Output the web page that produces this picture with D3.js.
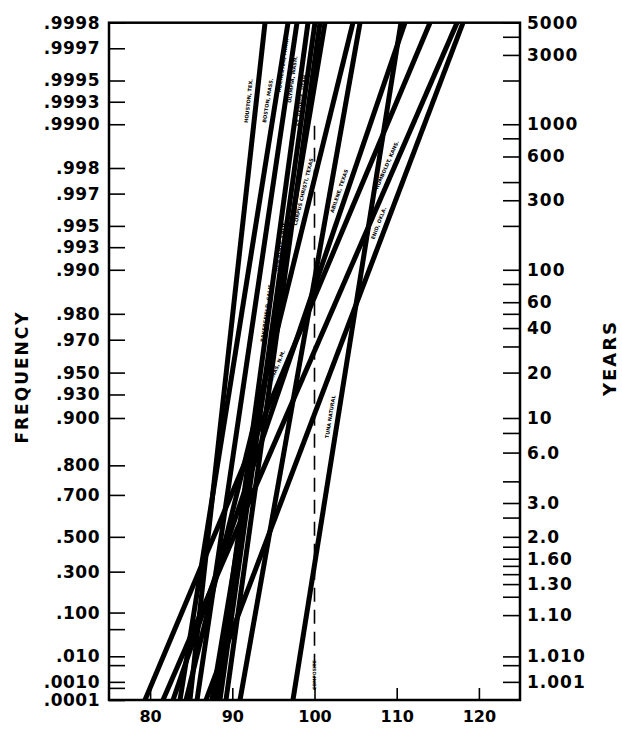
<!DOCTYPE html>
<html>
<head>
<meta charset="utf-8">
<script src="https://cdn.jsdelivr.net/npm/d3@7/dist/d3.min.js"></script>
<style>
body { margin: 0; background: #fff; }
text { font-family: "DejaVu Sans", sans-serif; font-weight: bold; }
</style>
</head>
<body>
<script>
var width = 622;
var height = 732;

// left axis: frequency
var freqTicks = [0.9998, 0.9997, 0.9995, 0.9993, 0.9990, 0.998, 0.997, 0.995, 0.993, 0.990,
    0.980, 0.970, 0.950, 0.930, 0.900, 0.800, 0.700, 0.500, 0.300, 0.100, 0.010, 0.0010, 0.0001];
var freqLabels = [".9998", ".9997", ".9995", ".9993", ".9990", ".998", ".997", ".995", ".993", ".990",
    ".980", ".970", ".950", ".930", ".900", ".800", ".700", ".500", ".300", ".100", ".010", ".0010", ".0001"];
var freqMinor = [0.05, 0.005, 0.0005];

// right axis: return period in years
var yearTicks = [5000, 3000, 1000, 600, 300, 100, 60, 40, 20, 10, 6, 3, 2, 1.6, 1.3, 1.1, 1.01, 1.001];
var yearLabels = ["5000", "3000", "1000", "600", "300", "100", "60", "40", "20", "10", "6.0", "3.0",
    "2.0", "1.60", "1.30", "1.10", "1.010", "1.001"];
var yearMinor = [4000, 2000, 800, 400, 200, 80, 50, 30, 8, 4, 2.5, 1.8, 1.5, 1.4, 1.2, 1.005];

// bottom axis
var xTicks = [80, 90, 100, 110, 120];

// station lines: value at frequency .0001 and at .9998
var stations = ["HOUSTON, TEX.", "BOSTON, MASS.", "ROCHESTER, MINN.", "OLYMPIA, WASH.",
    "", "ST. GEORGE, UTAH", "RED BLUFF, CALIF.", "CORPUS CHRISTI, TEXAS", "BAKERSFIELD, CALIF.",
    "ABILENE, TEXAS", "COLINAS, N.M.", "HUMBOLDT, KANS.", "ENID, OKLA.", "TUNA NATURAL"];
var lowValues  = [84.85, 83.64, 85.71, 88.02, 90.94, 89.23, 87.53, 84.37, 88.50, 82.79, 79.38, 81.57, 86.80, 97.38];
var highValues = [93.98, 96.78, 97.87, 99.21, 105.54, 100.67, 101.28, 104.68, 100.06, 111.01, 114.05, 117.34, 118.07, 110.52];
var labelFreq  = [0.9993, 0.9993, 0.9996, 0.9995, 0, 0.9993, 0.993, 0.997, 0.98, 0.997, 0.95, 0.998, 0.995, 0.90];

// dashed line
var dashFreq = [0.0004, 0.999];
var dashValue = 100;

var gumbel = function (f) { return -Math.log(-Math.log(f)); };

var x = d3.scaleLinear().domain([75, 125]).range([109, 520]);
var y = d3.scaleLinear().domain([gumbel(0.0001), gumbel(0.9998)]).range([700, 22.7]);
var yF = function (f) { return y(gumbel(f)); };

var svg = d3.select("body").append("svg")
    .attr("width", width)
    .attr("height", height);

svg.append("clipPath").attr("id", "plot")
    .append("rect")
    .attr("x", x(75)).attr("y", y.range()[1])
    .attr("width", x(125) - x(75)).attr("height", y.range()[0] - y.range()[1]);

var plot = svg.append("g").attr("clip-path", "url(#plot)");

// station lines
plot.selectAll("line.st")
    .data(lowValues)
    .enter()
    .append("line")
    .attr("class", "st")
    .attr("x1", function (d) { return x(d); })
    .attr("y1", yF(0.0001))
    .attr("x2", function (d, i) { return x(highValues[i]); })
    .attr("y2", yF(0.9998))
    .style("stroke", "#000")
    .style("stroke-width", 5);

// dashed line
plot.append("line")
    .attr("x1", x(dashValue)).attr("x2", x(dashValue))
    .attr("y1", yF(dashFreq[0])).attr("y2", yF(dashFreq[1]))
    .style("stroke", "#000")
    .style("stroke-width", 1.6)
    .style("stroke-dasharray", "14,8");

// station names along the lines
stations.forEach(function (name, i) {
    if (!name) return;
    var g = gumbel(labelFreq[i]);
    var g0 = gumbel(0.0001), g1 = gumbel(0.9998);
    var t = (g - g0) / (g1 - g0);
    var v = lowValues[i] + t * (highValues[i] - lowValues[i]);
    var px = x(v), py = y(g);
    var ang = Math.atan2(y(g1) - y(g0), x(highValues[i]) - x(lowValues[i])) * 180 / Math.PI;
    plot.append("text")
        .attr("transform", "translate(" + px + "," + py + ") rotate(" + ang + ") translate(0,-6)")
        .attr("text-anchor", "middle")
        .attr("font-size", 5)
        .text(name);
});

svg.append("text")
    .attr("transform", "translate(" + x(dashValue) + "," + yF(0.002) + ") rotate(-90)")
    .attr("text-anchor", "middle")
    .attr("dy", "0.35em")
    .attr("font-size", 4.5)
    .text("COMPOSITE");

// axes
var leftAxis = d3.axisLeft(y)
    .tickValues(freqTicks.map(gumbel))
    .tickFormat(function (d, i) { return freqLabels[i]; })
    .tickSizeInner(-16).tickSizeOuter(0).tickPadding(9);

svg.append("g")
    .attr("transform", "translate(" + x(75) + ",0)")
    .call(leftAxis)
    .call(function (g) { g.select(".domain").remove(); })
    .selectAll("text").attr("font-size", 17).style("letter-spacing", "0.5px");

svg.append("g")
    .attr("transform", "translate(" + x(75) + ",0)")
    .call(d3.axisLeft(y).tickValues(freqMinor.map(gumbel)).tickFormat("").tickSizeInner(-16).tickSizeOuter(0))
    .call(function (g) { g.select(".domain").remove(); });

var rightAxis = d3.axisRight(y)
    .tickValues(yearTicks.map(function (t) { return gumbel(1 - 1 / t); }))
    .tickFormat(function (d, i) { return yearLabels[i]; })
    .tickSizeInner(-17).tickSizeOuter(0).tickPadding(7);

svg.append("g")
    .attr("transform", "translate(" + x(125) + ",0)")
    .call(rightAxis)
    .call(function (g) { g.select(".domain").remove(); })
    .selectAll("text").attr("font-size", 17).style("letter-spacing", "1px");

svg.append("g")
    .attr("transform", "translate(" + x(125) + ",0)")
    .call(d3.axisRight(y).tickValues(yearMinor.map(function (t) { return gumbel(1 - 1 / t); }))
        .tickFormat("").tickSizeInner(-17).tickSizeOuter(0))
    .call(function (g) { g.select(".domain").remove(); });

svg.append("g")
    .attr("transform", "translate(0," + y.range()[0] + ")")
    .call(d3.axisBottom(x).tickValues(xTicks).tickSizeInner(-12).tickSizeOuter(0).tickPadding(11))
    .call(function (g) { g.select(".domain").remove(); })
    .selectAll("text").attr("font-size", 16);

svg.selectAll(".tick line").style("stroke-width", 1.6);

// frame
svg.append("rect")
    .attr("x", x(75)).attr("y", y.range()[1])
    .attr("width", x(125) - x(75)).attr("height", y.range()[0] - y.range()[1])
    .style("fill", "none")
    .style("stroke", "#000")
    .style("stroke-width", 2.5);

// axis titles
svg.append("text")
    .attr("transform", "translate(22,377) rotate(-90)")
    .attr("text-anchor", "middle")
    .attr("dy", "0.35em")
    .attr("font-size", 17)
    .style("letter-spacing", "2px")
    .text("FREQUENCY");

svg.append("text")
    .attr("transform", "translate(610,358) rotate(-90)")
    .attr("text-anchor", "middle")
    .attr("dy", "0.35em")
    .attr("font-size", 18)
    .style("letter-spacing", "2px")
    .text("YEARS");
</script>
</body>
</html>
